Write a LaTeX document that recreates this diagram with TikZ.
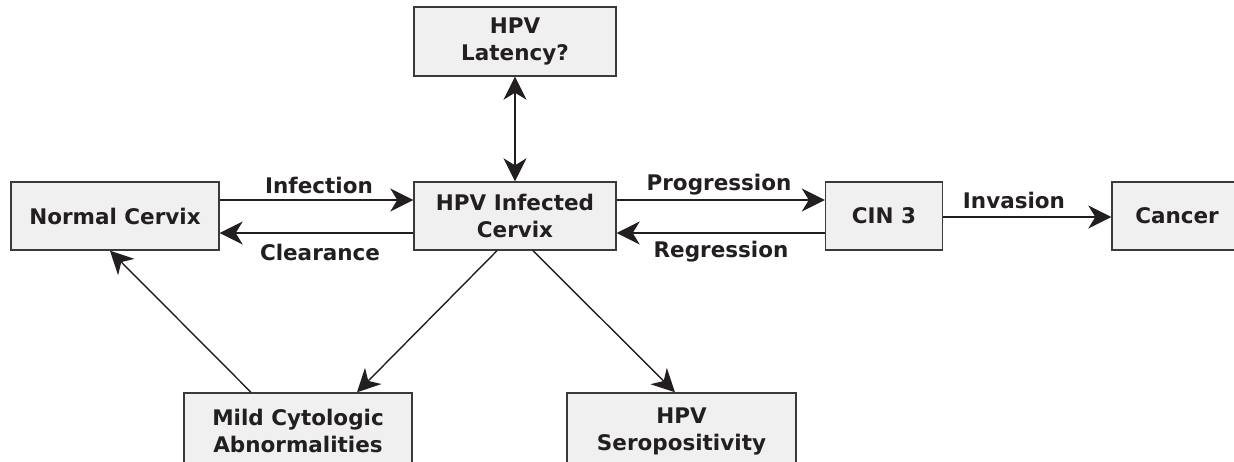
\documentclass[tikz,border=0pt]{standalone}
\usepackage{fontspec}
\setmainfont{DejaVu Sans}
\usetikzlibrary{arrows.meta,calc}
\definecolor{boxfill}{HTML}{F0F0F0}
\definecolor{boxline}{HTML}{3A3A3A}
\definecolor{ink}{HTML}{231F20}
\begin{document}
\begin{tikzpicture}[x=1pt,y=-1pt,
  box/.style={draw=boxline,line width=1.4pt,fill=boxfill,rectangle,inner sep=0pt,
    align=center,text=ink,font=\fontsize{21.5}{27}\selectfont\bfseries},
  lbl/.style={text=ink,font=\fontsize{21.5}{27}\selectfont\bfseries,inner sep=0pt},
  conn/.style={draw=ink,line width=1.4pt,-{Stealth[length=23pt,width=23pt,inset=7pt]}},
  dconn/.style={draw=ink,line width=1.4pt,{Stealth[length=23pt,width=23pt,inset=7pt]}-{Stealth[length=23pt,width=23pt,inset=7pt]}}]
\useasboundingbox (0,0) rectangle (1234,461);
\clip (0,0) rectangle (1234,461);
\fill[white] (0,0) rectangle (1234,461);
% boxes
\node[box,minimum width=208pt,minimum height=68pt] (normal) at (115,216) {Normal Cervix};
\node[box,minimum width=202pt,minimum height=68pt] (inf) at (515,216) {HPV Infected\\Cervix};
\node[box,minimum width=202pt,minimum height=69pt] (lat) at (515,41.5) {HPV\\Latency?};
\node[box,minimum width=117pt,minimum height=68pt] (cin) at (884,216) {CIN 3};
\node[box,minimum width=130pt,minimum height=68pt] (cancer) at (1177,216) {Cancer};
\node[box,minimum width=228pt,minimum height=76pt] (mild) at (298,431) {Mild Cytologic\\Abnormalities};
\node[box,minimum width=229pt,minimum height=76pt] (sero) at (681.5,431) {HPV\\Seropositivity};
% horizontal connectors
\draw[conn] (normal.east |- 0,200) -- (inf.west |- 0,200);
\draw[conn] (inf.west |- 0,233) -- (normal.east |- 0,233);
\draw[conn] (inf.east |- 0,200) -- (cin.west |- 0,200);
\draw[conn] (cin.west |- 0,233) -- (inf.east |- 0,233);
\draw[conn] (cin.east |- 0,217) -- (cancer.west |- 0,217);
\draw[dconn] (lat.south) -- (inf.north);
% diagonals
\draw[conn] ($(inf.south)+(-18,0)$) -- ($(mild.north)+(59,0)$);
\draw[conn] ($(inf.south)+(18,0)$) -- ($(sero.north)+(-6.5,0)$);
\draw[conn] ($(mild.north)+(-47,0)$) -- ($(normal.south)+(-5,0)$);
% labels
\node[lbl] (linf) at (319,185) {Infection};
\node[lbl] (lclr) at (320,252) {Clearance};
\node[lbl] (lprog) at (719,185) {Progression};
\node[lbl] (lreg) at (721,252) {Regression};
\node[lbl] (linv) at (1014,200) {Invasion};
\end{tikzpicture}
\end{document}
